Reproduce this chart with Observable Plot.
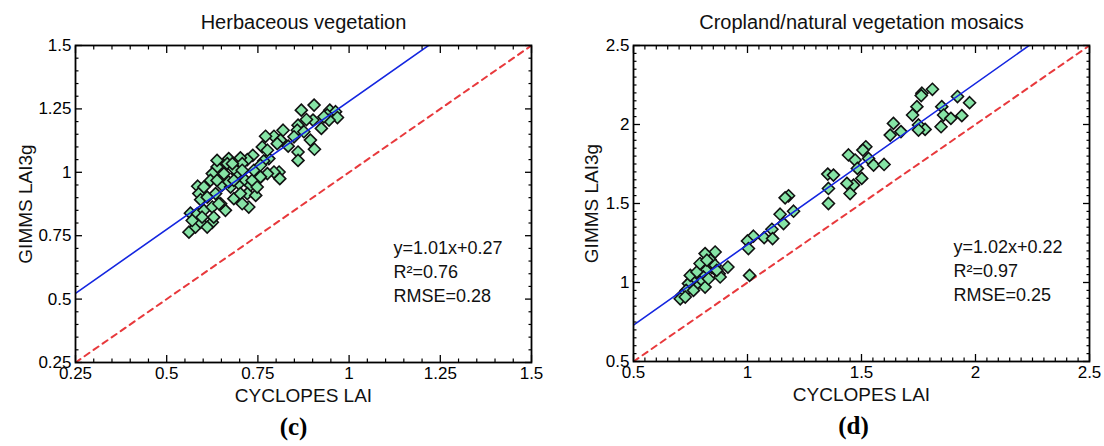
<!DOCTYPE html>
<html><head><meta charset="utf-8">
<script src="https://cdn.jsdelivr.net/npm/d3@7"></script>
<script src="https://cdn.jsdelivr.net/npm/@observablehq/plot@0.6"></script>
<style>
body{margin:0;background:#fff}
#root{position:relative;width:1104px;height:446px;overflow:hidden;background:#fff;font-family:"Liberation Sans",Arial,sans-serif}
#root svg{position:absolute;top:0}
</style></head><body><div id="root"></div>
<script>
const titles = ["Herbaceous vegetation", "Cropland/natural vegetation mosaics"];
const panelTags = ["(c)", "(d)"];
const xLabel = "CYCLOPES LAI";
const yLabel = "GIMMS LAI3g";

const herbTicks = [0.25, 0.5, 0.75, 1, 1.25, 1.5];
const cropTicks = [0.5, 1, 1.5, 2, 2.5];

const herbX = [0.904,0.869,0.947,0.963,0.940,0.968,0.901,0.883,0.860,0.924,0.945,0.858,0.894,0.905,0.860,0.860,0.819,0.794,0.771,0.812,0.833,0.762,0.780,0.808,0.810,0.794,0.776,0.753,0.736,0.721,0.702,0.670,0.652,0.638,0.625,0.620,0.585,0.588,0.593,0.565,0.561,0.579,0.593,0.584,0.602,0.625,0.625,0.634,0.652,0.657,0.661,0.675,0.684,0.698,0.693,0.716,0.730,0.721,0.725,0.744,0.734,0.739,0.757,0.707,0.638,0.648,0.611,0.611,0.629,0.570,0.766,0.638,0.666,0.684,0.707,0.670,0.702,0.707,0.748,0.757,0.602,0.597,0.680,0.776,0.803,0.849,0.876,0.931,0.643,0.684];
const herbY = [1.265,1.245,1.245,1.239,1.226,1.216,1.206,1.208,1.186,1.173,1.206,1.166,1.127,1.091,1.080,1.047,1.166,1.142,1.142,1.127,1.103,1.100,1.054,1.001,0.975,1.001,0.995,0.975,1.067,1.050,1.057,1.054,1.021,1.021,0.995,0.968,0.945,0.916,0.892,0.839,0.764,0.784,0.803,0.836,0.850,0.863,0.803,0.916,0.949,0.995,0.850,0.942,0.896,0.955,0.995,0.968,0.949,0.916,0.863,0.909,0.968,1.008,0.982,1.034,0.968,0.876,0.902,0.784,0.823,0.810,1.045,1.047,1.034,1.015,1.008,0.962,0.916,0.876,0.942,1.028,0.942,0.823,1.034,1.087,1.113,1.140,1.160,1.219,0.876,0.968];

const cropX = [1.811,1.765,1.762,1.743,1.724,1.921,1.974,1.852,1.860,1.892,1.940,1.849,1.750,1.779,1.750,1.640,1.626,1.673,1.519,1.506,1.443,1.472,1.531,1.553,1.599,1.482,1.501,1.465,1.436,1.450,1.352,1.377,1.355,1.355,1.180,1.165,1.202,1.143,1.158,1.107,1.073,1.110,1.026,1.000,1.004,1.009,0.914,0.876,0.858,0.836,0.814,0.844,0.819,0.807,0.792,0.814,0.770,0.756,0.741,0.731,0.712,0.705,0.727,0.749,0.778,0.829,0.858,0.880,0.792,0.763,0.822,0.865];
const cropY = [2.223,2.198,2.183,2.113,2.060,2.177,2.138,2.113,2.060,2.039,2.056,1.986,1.997,1.969,1.965,2.007,1.933,1.955,1.859,1.838,1.807,1.775,1.785,1.743,1.747,1.722,1.659,1.616,1.627,1.563,1.686,1.680,1.595,1.500,1.549,1.536,1.451,1.432,1.373,1.337,1.284,1.278,1.293,1.263,1.215,1.045,1.098,1.056,1.193,1.145,1.183,1.094,1.077,1.035,1.003,0.971,0.982,1.014,0.993,0.950,0.919,0.897,0.908,1.045,1.067,1.024,1.109,1.035,1.120,0.950,1.141,1.077];

const herbStats = ["y=1.01x+0.27", "R²=0.76", "RMSE=0.28"];
const cropStats = ["y=1.02x+0.22", "R²=0.97", "RMSE=0.25"];
const herbFit = [1.01, 0.27];
const cropFit = [1.02, 0.22];

function panel({xs, ys, ticks, minorStep, fit, stats, title, tag, marginLeft, marginRight, marginBottom, statDx, tagDx, yLabelDx}) {
  const domain = [ticks[0], ticks[ticks.length - 1]];
  const minor = d3.range(domain[0], domain[1] + 1e-9, minorStep)
    .map(v => +v.toFixed(4))
    .filter(v => !ticks.some(t => Math.abs(t - v) < 1e-6));
  const n = Math.min(xs.length, ys.length);
  const pts = d3.range(n).map(i => ({x: xs[i], y: ys[i]}));
  const fmt = d => String(d);
  const tickMarks = [];
  for (const a of ["bottom", "top"]) {
    tickMarks.push(Plot.axisX(ticks, {anchor: a, tickSize: -7, fill: "none", label: null, stroke: "#000", strokeWidth: 1.3}));
    tickMarks.push(Plot.axisX(minor, {anchor: a, tickSize: -3.5, fill: "none", label: null, stroke: "#000", strokeWidth: 1.2}));
  }
  for (const a of ["left", "right"]) {
    tickMarks.push(Plot.axisY(ticks, {anchor: a, tickSize: -7, fill: "none", label: null, stroke: "#000", strokeWidth: 1.3}));
    tickMarks.push(Plot.axisY(minor, {anchor: a, tickSize: -3.5, fill: "none", label: null, stroke: "#000", strokeWidth: 1.2}));
  }
  return Plot.plot({
    width: 552, height: 446,
    marginLeft, marginRight, marginTop: 45, marginBottom,
    x: {domain}, y: {domain},
    style: {fontFamily: '"Liberation Sans", Arial, sans-serif', background: "transparent", color: "#000", overflow: "visible"},
    marks: [
      Plot.line(domain, {x: d => d, y: d => d, stroke: "#e8393c", strokeWidth: 2, strokeDasharray: "6,5", clip: true}),
      Plot.dot(pts, {x: "x", y: "y", symbol: "diamond2", r: 5.4, fill: "#86e4a6", stroke: "#111", strokeWidth: 1.6}),
      Plot.line(domain, {x: d => d, y: d => fit[0] * d + fit[1], stroke: "#1426e0", strokeWidth: 1.6, clip: true}),
      Plot.frame({stroke: "#000", strokeWidth: 1.8}),
      ...tickMarks,
      Plot.axisX(ticks, {anchor: "bottom", tickSize: 0, tickPadding: 4, tickFormat: fmt, fontSize: 17, label: null}),
      Plot.axisY(ticks, {anchor: "left", tickSize: 0, tickPadding: 4, tickFormat: fmt, fontSize: 17, label: null}),
      Plot.text([stats.join("\n")], {text: d => d, frameAnchor: "right", textAnchor: "start", lineAnchor: "top", lineHeight: 1.33, dx: statDx, dy: 33, fontSize: 18, fill: "#111"}),
      Plot.text([title], {text: d => d, frameAnchor: "top", textAnchor: "middle", lineAnchor: "middle", dy: -23, fontSize: 20, fill: "#111"}),
      Plot.text([xLabel], {text: d => d, frameAnchor: "bottom", textAnchor: "middle", lineAnchor: "middle", dy: 33, fontSize: 19, fill: "#111"}),
      Plot.text([yLabel], {text: d => d, frameAnchor: "left", textAnchor: "middle", lineAnchor: "middle", dx: yLabelDx, rotate: -90, fontSize: 19, fill: "#111"}),
      Plot.text([tag], {text: d => d, frameAnchor: "bottom", textAnchor: "middle", lineAnchor: "middle", dy: 64, dx: tagDx, fontSize: 25, fontWeight: "bold", fontFamily: '"Liberation Serif", "Times New Roman", serif', fill: "#000"})
    ]
  });
}

const root = document.getElementById("root");
const left = panel({xs: herbX, ys: herbY, ticks: herbTicks, minorStep: 0.05, fit: herbFit, stats: herbStats, title: titles[0], tag: panelTags[0], marginLeft: 75, marginRight: 21, marginBottom: 84, statDx: -138, tagDx: -10, yLabelDx: -50});
const right = panel({xs: cropX, ys: cropY, ticks: cropTicks, minorStep: 0.05, fit: cropFit, stats: cropStats, title: titles[1], tag: panelTags[1], marginLeft: 81, marginRight: 15, marginBottom: 85, statDx: -136, tagDx: -8, yLabelDx: -42});
left.style.left = "0px";
right.style.left = "552px";
root.appendChild(left);
root.appendChild(right);
</script></body></html>
